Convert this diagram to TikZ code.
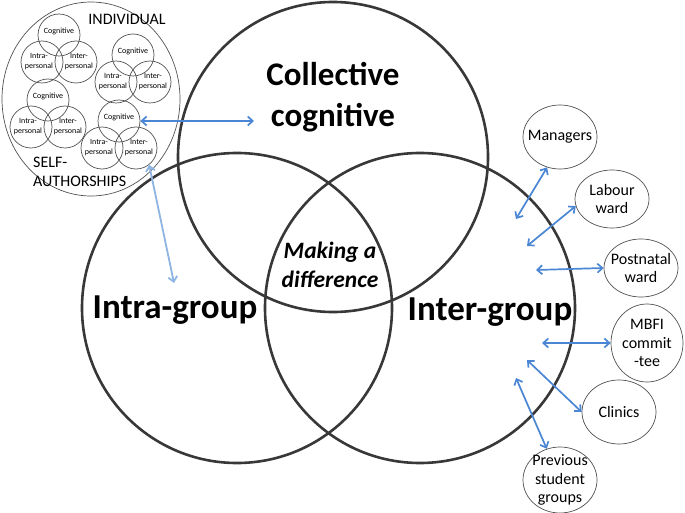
\documentclass[tikz,border=0pt]{standalone}
\usepackage{fontspec}
\setmainfont{Carlito}
\usetikzlibrary{shapes.geometric,arrows.meta}
\definecolor{arrblue}{HTML}{4A86D4}
\definecolor{lightblue}{HTML}{8DB4E2}
\definecolor{ring}{HTML}{383838}
\definecolor{thin}{HTML}{505050}
\newcommand\minivenn[3]{%
  \node[minic] (#1cog) at (#2,#3) {};
  \node[minic] (#1intra) at (#2-17,#3+27) {};
  \node[minic] (#1inter) at (#2+17,#3+27) {};
  \node[minitxt] (#1cogt) at (#2,#3-4) {Cognitive};
  \node[minitxt] (#1intrat) at (#2-20,#3+27) {Intra-\\personal};
  \node[minitxt] (#1intert) at (#2+20,#3+27) {Inter-\\personal};
}
\begin{document}
\begin{tikzpicture}[x=1pt,y=-1pt,
  bigc/.style={circle, draw=ring, line width=2.6pt, minimum size=310pt, inner sep=0pt},
  minic/.style={circle, draw=thin, line width=0.7pt, minimum size=42pt, inner sep=0pt},
  minitxt/.style={align=center, inner sep=0pt, font=\fontsize{8}{10}\selectfont},
  ext/.style={ellipse, draw=thin, line width=0.7pt, inner sep=0pt},
  exttxt/.style={align=center, inner sep=0pt, font=\fontsize{16}{18.5}\selectfont},
  bigtxt/.style={align=center, inner sep=0pt, font=\fontsize{33}{41}\selectfont\bfseries},
  grptxt/.style={align=center, inner sep=0pt, font=\fontsize{35}{41}\selectfont\bfseries},
  midtxt/.style={align=center, inner sep=0pt, font=\fontsize{23.5}{29}\selectfont\bfseries\itshape},
  indtxt/.style={align=left, inner sep=0pt, font=\fontsize{16}{19}\selectfont},
  arr/.style={draw=arrblue, line width=1.7pt, {Straight Barb[length=5pt,width=9pt]}-{Straight Barb[length=5pt,width=9pt]}},
  larr/.style={draw=lightblue, line width=1.8pt, {Straight Barb[length=5pt,width=9pt]}-{Straight Barb[length=5pt,width=9pt]}}
]
\useasboundingbox (0,0) rectangle (685,513);

% big Venn
\node[bigc] (top) at (333,157) {};
\node[bigc] (left) at (237,308) {};
\node[bigc] (right) at (420,308) {};
\node[bigtxt] (coll) at (333,97) {Collective\\cognitive};
\node[grptxt] (intra) at (175,310) {Intra-group};
\node[grptxt] (inter) at (490,312) {Inter-group};
\node[midtxt] (mad) at (330,265) {Making a\\difference};

% individual
\node[ellipse, draw=thin, line width=0.7pt, minimum width=178pt, minimum height=194pt, inner sep=0pt] (ind) at (91,99) {};
\node[indtxt] (indt) at (127,19) {INDIVIDUAL};
\node[indtxt, anchor=west] (selft) at (33,172) {SELF-\\AUTHORSHIPS};
\minivenn{A}{59}{35}
\minivenn{B}{133}{55}
\minivenn{C}{48}{100}
\minivenn{D}{119}{121}

% external nodes
\node[ext, minimum width=74pt, minimum height=64pt] (man) at (560,137) {};
\node[exttxt] (mant) at (man) {Managers};
\node[ext, minimum width=74pt, minimum height=58pt] (lab) at (612,199) {};
\node[exttxt] (labt) at (lab) {Labour\\ward};
\node[ext, minimum width=74pt, minimum height=58pt] (post) at (641,268) {};
\node[exttxt] (postt) at (post) {Postnatal\\ward};
\node[ext, minimum width=72pt, minimum height=78pt] (mbfi) at (647,343) {};
\node[exttxt] (mbfit) at (mbfi) {MBFI\\commit\\-tee};
\node[ext, minimum width=74pt, minimum height=64pt] (clin) at (619,412) {};
\node[exttxt] (clint) at (clin) {Clinics};
\node[ext, minimum width=74pt, minimum height=66pt] (prev) at (560,480) {};
\node[exttxt] (prevt) at (prev) {Previous\\student\\groups};

% free ends
\coordinate (ecoll) at (254,121);
\coordinate (eintra) at (174,283);
\coordinate (e1) at (516,219);
\coordinate (e2) at (527,246);
\coordinate (e3) at (536,270);
\coordinate (e4) at (542,343);
\coordinate (e5) at (527,360);
\coordinate (e6) at (516,378);

\draw[arr] (Dcog.east) -- (ecoll);
\draw[larr] (Dinter.308) -- (eintra);
\draw[arr] (e1) -- (man.247);
\draw[arr] (e2) -- (lab.191);
\draw[arr] (e3) -- (post.180);
\draw[arr] (e4) -- (mbfi.180);
\draw[arr] (e5) -- (clin.180);
\draw[arr] (e6) -- (prev.113);
\end{tikzpicture}
\end{document}
